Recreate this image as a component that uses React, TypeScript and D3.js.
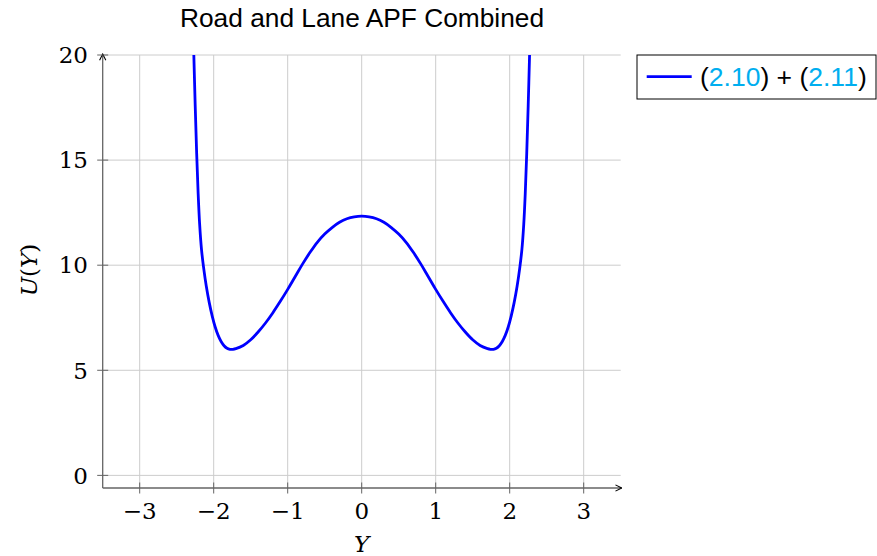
import React from "react";
import * as d3 from "d3";

const title = "Road and Lane APF Combined";
const xTicks = [-3, -2, -1, 0, 1, 2, 3];
const yTicks = [0, 5, 10, 15, 20];

const posY = [
  -2.27, -2.25, -2.23, -2.21, -2.19, -2.165, -2.135, -2.1, -2.06, -2.02, -1.98, -1.94, -1.9, -1.86, -1.82, -1.78, -1.74,
  -1.7, -1.6, -1.5, -1.4, -1.3, -1.2, -1.1, -1.0, -0.9, -0.8, -0.7, -0.6, -0.5, -0.4, -0.3, -0.2, -0.1,
  0,
  0.1, 0.2, 0.3, 0.4, 0.5, 0.6, 0.7, 0.8, 0.9, 1.0, 1.1, 1.2, 1.3, 1.4, 1.5, 1.6, 1.7,
  1.74, 1.78, 1.82, 1.86, 1.9, 1.94, 1.98, 2.02, 2.06, 2.1, 2.135, 2.165, 2.19, 2.21, 2.23, 2.25, 2.27,
];
const potU = [
  20.2, 17.6, 15.3, 13.4, 11.95, 10.75, 9.85, 9.0, 8.22, 7.58, 7.06, 6.66, 6.37, 6.17, 6.05, 6.0, 6.0,
  6.03, 6.18, 6.45, 6.82, 7.25, 7.74, 8.28, 8.85, 9.45, 10.05, 10.6, 11.09, 11.48, 11.79, 12.04, 12.21, 12.3,
  12.33,
  12.3, 12.21, 12.04, 11.79, 11.48, 11.09, 10.6, 10.05, 9.45, 8.85, 8.28, 7.74, 7.25, 6.82, 6.45, 6.18, 6.03,
  6.0, 6.0, 6.05, 6.17, 6.37, 6.66, 7.06, 7.58, 8.22, 9.0, 9.85, 10.75, 11.95, 13.4, 15.3, 17.6, 20.2,
];

const legendParts = [
  { t: "(", c: "#000" },
  { t: "2.10", c: "#00aeef" },
  { t: ") + (", c: "#000" },
  { t: "2.11", c: "#00aeef" },
  { t: ")", c: "#000" },
];

export default function App() {
  const W = 877, H = 556;
  const x0 = 102.7, x1 = 620.7, yTop = 55, yBot = 488;
  const x = d3.scaleLinear().domain([-3.5, 3.5]).range([x0, x1]);
  const y = d3.scaleLinear().domain([-0.6, 20]).range([yBot, yTop]);
  const data = posY.map((v, i) => [v, potU[i]] as [number, number]);
  const line = d3.line<[number, number]>().x(d => x(d[0])).y(d => y(d[1])).curve(d3.curveCatmullRom.alpha(0.5));
  const serif = "'DejaVu Serif', 'Liberation Serif', serif";
  const sans = "'Liberation Sans', Arial, sans-serif";
  const axisCol = "#646464";
  const gridCol = "#cccccc";
  return (
    <svg width={W} height={H} style={{ position: "absolute", left: 0, top: 0, background: "#fff" }}>
      <defs>
        <clipPath id="plotclip">
          <rect x={x0} y={yTop} width={x1 - x0} height={yBot - yTop} />
        </clipPath>
        <marker id="arr" viewBox="0 0 10 10" refX="9" refY="5" markerWidth="6" markerHeight="6" orient="auto">
          <path d="M1,1 L9,5 L1,9" fill="none" stroke="#000" strokeWidth="1.4" />
        </marker>
      </defs>
      <text x={362} y={27} textAnchor="middle" fontFamily={sans} fontSize={26.3} fill="#000">{title}</text>
      {xTicks.map(t => (
        <line key={"gx" + t} x1={x(t)} x2={x(t)} y1={yTop} y2={yBot} stroke={gridCol} strokeWidth={1} />
      ))}
      {yTicks.map(t => (
        <line key={"gy" + t} x1={x0} x2={x1} y1={y(t)} y2={y(t)} stroke={gridCol} strokeWidth={1} />
      ))}
      <path d={line(data) || ""} fill="none" stroke="#0000ff" strokeWidth={2.8} clipPath="url(#plotclip)" strokeLinejoin="round" />
      <line x1={x0} x2={x0} y1={yBot} y2={yTop - 1} stroke={axisCol} strokeWidth={1.3} markerEnd="url(#arr)" />
      <line x1={x0} x2={x1 + 1} y1={yBot} y2={yBot} stroke={axisCol} strokeWidth={1.3} markerEnd="url(#arr)" />
      {yTicks.map(t => (
        <g key={"ty" + t}>
          <line x1={x0 - 5.5} x2={x0 + 5.5} y1={y(t)} y2={y(t)} stroke={axisCol} strokeWidth={1} />
          <text x={88} y={y(t) + 8.3} textAnchor="end" fontFamily={serif} fontSize={23} fill="#000">{String(t)}</text>
        </g>
      ))}
      {xTicks.map(t => (
        <g key={"tx" + t}>
          <line x1={x(t)} x2={x(t)} y1={yBot - 5.5} y2={yBot + 5.5} stroke={axisCol} strokeWidth={1} />
          <text x={x(t)} y={519} textAnchor="middle" fontFamily={serif} fontSize={23} fill="#000">{t < 0 ? "\u2212" + Math.abs(t) : String(t)}</text>
        </g>
      ))}
      <text x={361.7} y={552} textAnchor="middle" fontFamily={serif} fontStyle="italic" fontSize={23} fill="#000">Y</text>
      <text transform="translate(37,270) rotate(-90)" textAnchor="middle" fontFamily={serif} fontSize={23} fill="#000">
        <tspan fontStyle="italic">U</tspan><tspan>(</tspan><tspan fontStyle="italic">Y</tspan><tspan>)</tspan>
      </text>
      <rect x={637} y={55} width={239} height={44} fill="#fff" stroke="#000" strokeWidth={1} />
      <line x1={646.7} x2={691.7} y1={76.7} y2={76.7} stroke="#0000ff" strokeWidth={2.8} />
      <text x={700} y={85.5} fontFamily={sans} fontSize={26.5} fill="#000">
        {legendParts.map((p, i) => (
          <tspan key={i} fill={p.c}>{p.t}</tspan>
        ))}
      </text>
    </svg>
  );
}
